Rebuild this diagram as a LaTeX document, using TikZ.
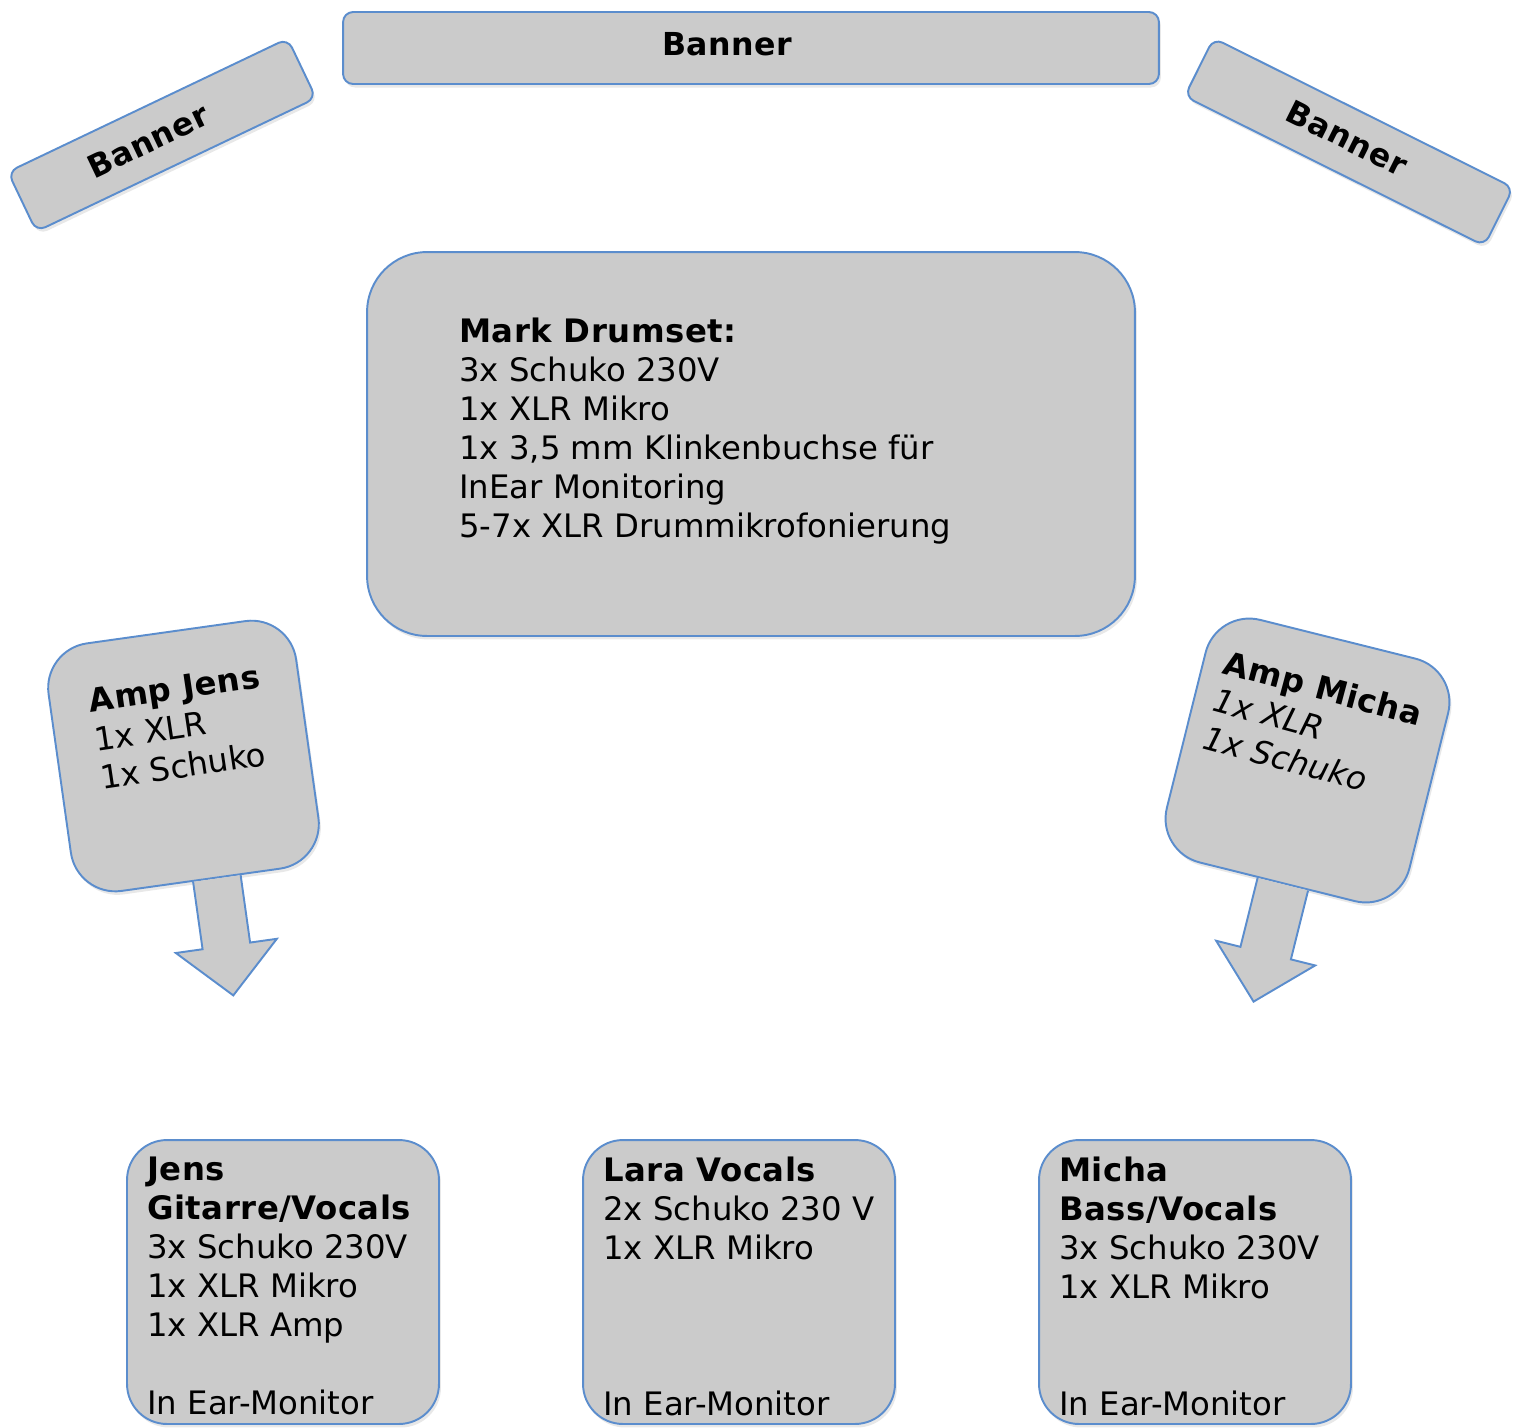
\documentclass[tikz,border=0pt]{standalone}
\usepackage{fontspec}
\setmainfont{DejaVu Sans}[BoldFeatures={LetterSpace=1.5}]
\usetikzlibrary{positioning, shadows}
\definecolor{boxgrey}{RGB}{203,203,203}
\definecolor{boxblue}{RGB}{91,141,205}
\tikzset{
  stagebox/.style={rectangle, draw=boxblue, fill=boxgrey, line width=1.1pt,
    inner sep=0pt, drop shadow={opacity=0.18, shadow xshift=0.04cm, shadow yshift=-0.07cm}},
  banner/.style={stagebox, rounded corners=0.2cm},
  ampbox/.style={stagebox, rounded corners=0.9cm, minimum width=5cm, minimum height=5cm},
  playerbox/.style={stagebox, rounded corners=0.8cm, minimum width=6.24cm, minimum height=5.68cm},
  boxtext/.style={inner sep=0pt, align=left, font=\fontsize{18.4}{22.2}\selectfont},
  bannertext/.style={inner sep=0pt, font=\fontsize{18}{22}\selectfont\bfseries},
  blockarrow/.style={draw=boxblue, fill=boxgrey, line width=1.1pt, line join=miter}
}

\begin{document}
\begin{tikzpicture}[x=0.02cm, y=-0.02cm]
  \useasboundingbox (0,0) rectangle (1516,1428);

  % banners
  \node[banner, minimum width=16.32cm, minimum height=1.44cm] (bannertop) at (751,48) {};
  \node[bannertext] (bannertoptext) at (727,44) {Banner};
  \node[banner, minimum width=6.2cm, minimum height=1.32cm, rotate=25.5] (bannerleft) at (162,135) {};
  \node[bannertext, rotate=25.5] (bannerlefttext) at (148,141) {Banner};
  \node[banner, minimum width=6.7cm, minimum height=1.3cm, rotate=-26.5] (bannerright) at (1349,142) {};
  \node[bannertext, rotate=-26.5] (bannerrighttext) at (1347,138) {Banner};

  % drum riser
  \node[stagebox, rounded corners=1.2cm, minimum width=15.36cm, minimum height=7.68cm] (drums) at (751,444) {};
  \node[boxtext, anchor=north west] (drumstext) at (459,318)
    {\textbf{Mark Drumset:}\\3x Schuko 230V\\1x XLR Mikro\\1x 3,5 mm Klinkenbuchse für\\InEar Monitoring\\5-7x XLR Drummikrofonierung};

  % amps
  \node[ampbox, rotate=8] (ampjens) at (183.5,756) {};
  \begin{scope}[shift={(ampjens.center)}, rotate=8]
    \draw[blockarrow] (40,126) -- (40,194) -- (67,194) -- (16,244) -- (-35,194) -- (-8,194) -- (-8,126);
  \end{scope}
  \node[boxtext, rotate=8.5, anchor=north west] (ampjenstext) at (87,689)
    {\textbf{Amp Jens}\\1x XLR\\1x Schuko};

  \node[ampbox, rotate=-14] (ampmicha) at (1307.5,760.5) {};
  \begin{scope}[shift={(ampmicha.center)}, rotate=-14]
    \draw[blockarrow] (32,126) -- (32,197) -- (57,197) -- (6,247) -- (-45,197) -- (-20,197) -- (-20,126);
  \end{scope}
  \node[boxtext, rotate=-15, anchor=north west] (ampmichatext) at (1228,649)
    {\textbf{Amp Micha}\\\itshape 1x XLR\\\itshape 1x Schuko};

  % players
  \node[playerbox] (jens) at (283,1282) {};
  \node[boxtext, anchor=north west] (jenstext) at (147,1157)
    {\textbf{Jens}\\\textbf{Gitarre/Vocals}\\3x Schuko 230V\\1x XLR Mikro\\1x XLR Amp\\\mbox{}\\In Ear-Monitor};
  \node[playerbox] (lara) at (739,1282) {};
  \node[boxtext, anchor=north west] (laratext) at (603,1157)
    {\textbf{Lara Vocals}\\2x Schuko 230 V\\1x XLR Mikro\\\mbox{}\\\mbox{}\\\mbox{}\\In Ear-Monitor};
  \node[playerbox] (micha) at (1195,1282) {};
  \node[boxtext, anchor=north west] (michatext) at (1059,1157)
    {\textbf{Micha}\\\textbf{Bass/Vocals}\\3x Schuko 230V\\1x XLR Mikro\\\mbox{}\\\mbox{}\\In Ear-Monitor};
\end{tikzpicture}
\end{document}
